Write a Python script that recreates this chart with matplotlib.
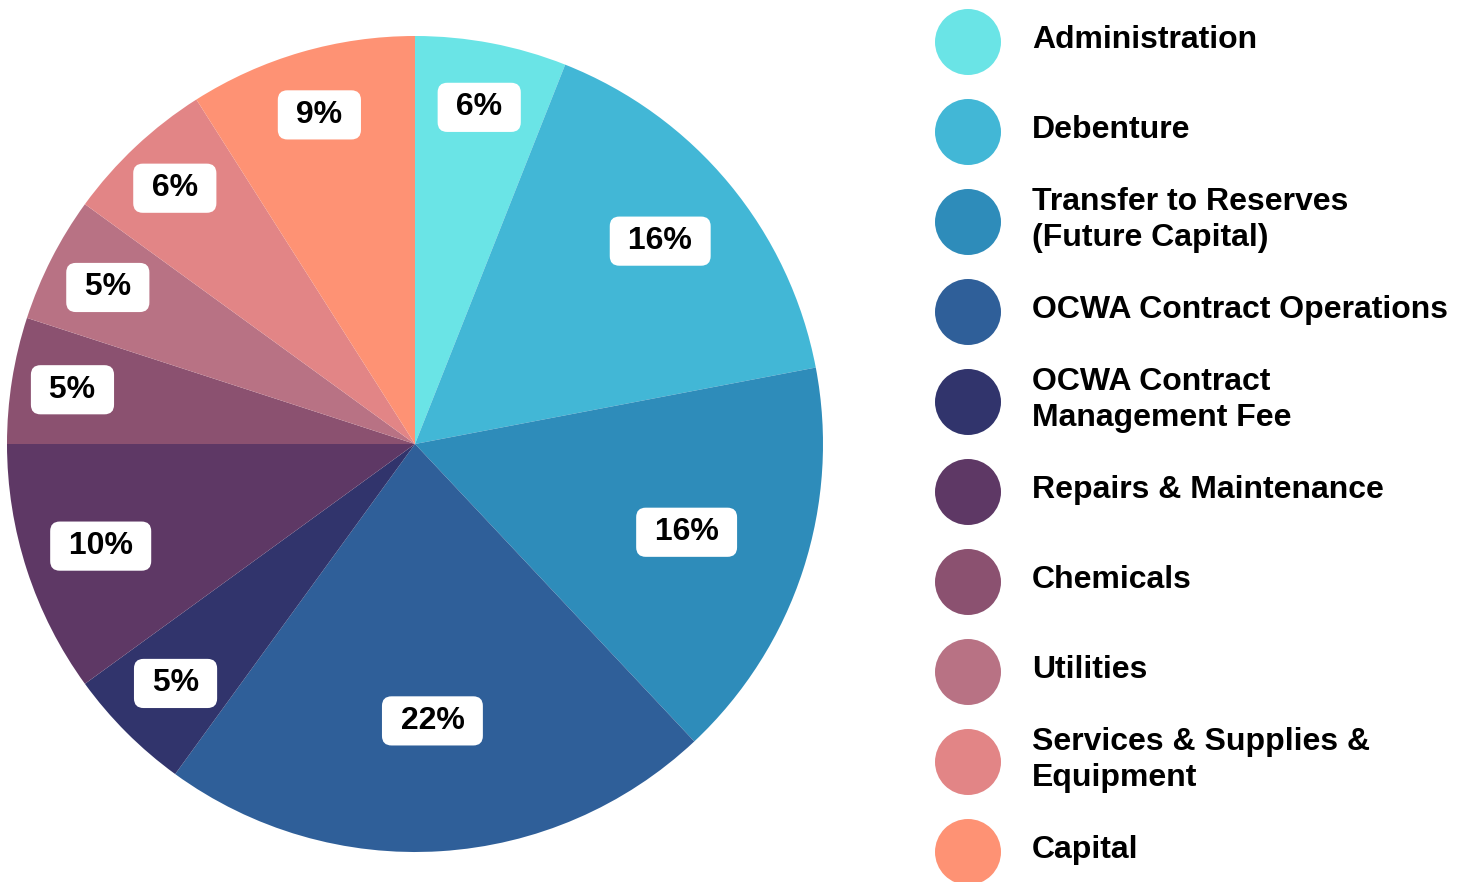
import numpy as np
import matplotlib.pyplot as plt

plt.rcParams["font.family"] = ["Liberation Sans", "DejaVu Sans"]

categories = [
    "Administration",
    "Debenture",
    "Transfer to Reserves\n(Future Capital)",
    "OCWA Contract Operations",
    "OCWA Contract\nManagement Fee",
    "Repairs & Maintenance",
    "Chemicals",
    "Utilities",
    "Services & Supplies &\nEquipment",
    "Capital",
]
shares = [6, 16, 16, 22, 5, 10, 5, 5, 6, 9]
colors = ["#6ae4e6", "#42b7d6", "#2e8cba", "#2f5f99", "#31346c",
          "#5e3865", "#8b5170", "#b87284", "#e28586", "#fe9274"]

# how far out each percentage label sits (fraction of radius)
label_r = [0.84, 0.78, 0.70, 0.68, 0.83, 0.81, 0.85, 0.845, 0.86, 0.84]

W, H = 1466, 882
fig = plt.figure(figsize=(W / 100, H / 100), dpi=100)

cx, cy, r = 415, 444, 408
ax = fig.add_axes([(cx - r) / W, (H - cy - r) / H, 2 * r / W, 2 * r / H])
wedges, _ = ax.pie(shares, colors=colors, startangle=90, counterclock=False,
                   radius=1, wedgeprops=dict(linewidth=0))
ax.set_xlim(-1, 1)
ax.set_ylim(-1, 1)
ax.set_aspect("equal")
ax.axis("off")

total = sum(shares)
for w, v, lr in zip(wedges, shares, label_r):
    mid = np.deg2rad((w.theta1 + w.theta2) / 2)
    ax.text(lr * np.cos(mid), lr * np.sin(mid), f" {v / total * 100:.0f}% ",
            ha="center", va="center", fontsize=23, fontweight="bold",
            bbox=dict(boxstyle="round,pad=0.3,rounding_size=0.3",
                      fc="white", ec="none"))

# legend drawn by hand in pixel-like coordinates
lax = fig.add_axes([0, 0, 1, 1])
lax.set_xlim(0, W)
lax.set_ylim(H, 0)
lax.axis("off")
ys = 42 + 90 * np.arange(len(categories))
lax.scatter([968] * len(categories), ys, s=(66 * 0.72) ** 2, c=colors,
            linewidths=0, clip_on=False)
for y, name in zip(ys, categories):
    lax.text(1032, y - 2, name, ha="left", va="center", fontsize=23,
             fontweight="bold", linespacing=1.28)

fig.savefig("out.png", dpi=100)
